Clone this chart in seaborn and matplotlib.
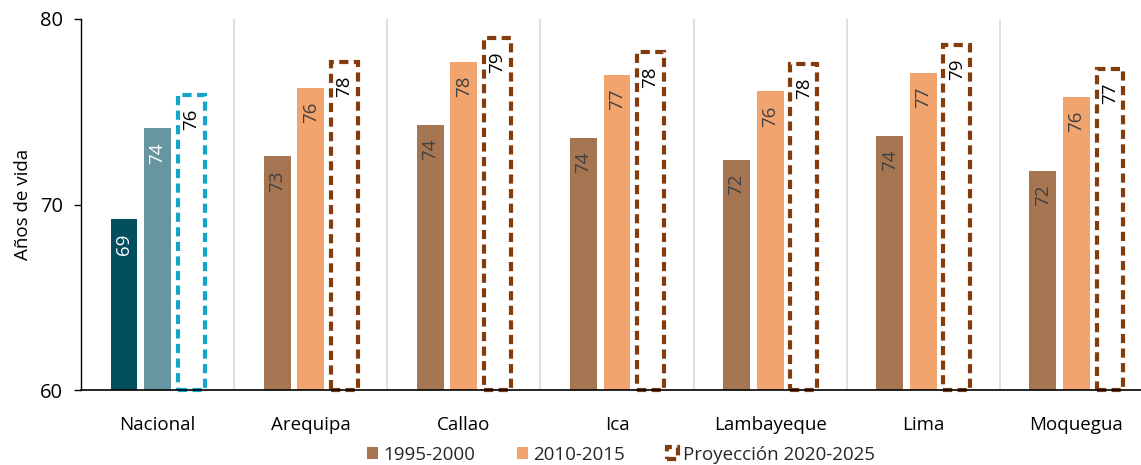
import numpy as np
import pandas as pd
import seaborn as sns
import matplotlib
matplotlib.use("Agg")
import matplotlib.pyplot as plt
from matplotlib.patches import Patch

# Esperanza de vida al nacer por ámbito (años)
regiones = ["Nacional", "Arequipa", "Callao", "Ica", "Lambayeque", "Lima", "Moquegua"]
periodos = ["1995-2000", "2010-2015", "Proyección 2020-2025"]
v_1995_2000 = [69.2, 72.6, 74.3, 73.6, 72.4, 73.7, 71.8]
v_2010_2015 = [74.1, 76.3, 77.7, 77.0, 76.1, 77.1, 75.8]
v_2020_2025 = [75.9, 77.7, 79.0, 78.2, 77.6, 78.6, 77.3]
etiquetas_y = [60, 70, 80]

df = pd.DataFrame({
    "region": regiones * 3,
    "periodo": np.repeat(periodos, len(regiones)),
    "valor": v_1995_2000 + v_2010_2015 + v_2020_2025,
})

sns.set_theme(style="white")
plt.rcParams["font.family"] = ["Open Sans", "DejaVu Sans"]

C_MARRON = "#A67653"
C_NARANJA = "#F2A46E"
C_PROY = "#843C0C"
C_NAC = ["#034E5F", "#6795A0", "#12A6C8"]
FS = 13.5

fig = plt.figure(figsize=(11.41, 4.65), dpi=100)
ax = fig.add_axes([81 / 1141, 75 / 465, (1153 - 81) / 1141, 371 / 465])

sns.barplot(data=df, x="region", y="valor", hue="periodo", order=regiones,
            hue_order=periodos, palette=[C_MARRON, C_NARANJA, "white"],
            width=0.657, gap=0.2, saturation=1, legend=False, ax=ax, zorder=3)

ymin = etiquetas_y[0]
for k, cont in enumerate(ax.containers):
    for i, bar in enumerate(cont):
        val = bar.get_height()
        bar.set_y(ymin)
        bar.set_height(val - ymin)
        nacional = regiones[i] == "Nacional"
        if k < 2:
            bar.set_edgecolor("none")
            if nacional:
                bar.set_facecolor(C_NAC[k])
            tcolor = "white" if nacional else "#404040"
        else:
            bar.set_facecolor("white")
            bar.set_edgecolor(C_NAC[2] if nacional else C_PROY)
            bar.set_linewidth(3.0)
            bar.set_linestyle((0, (2.2, 1.3)))
            bar.set_clip_on(False)
            tcolor = "black"
        ax.annotate(f"{round(val)}", xy=(bar.get_x() + bar.get_width() / 2, val),
                    xytext=(0, -10), textcoords="offset points",
                    rotation=90, ha="center", va="top", fontsize=FS,
                    color=tcolor, zorder=5)

# Separadores verticales entre ámbitos
for x in np.arange(0.5, len(regiones) - 0.5, 1):
    ax.axvline(x, color="#D9D9D9", lw=1.2, zorder=1)

ax.set_xlim(-0.5, len(regiones) - 0.5)
ax.set_ylim(ymin, etiquetas_y[-1])
ax.set_yticks(etiquetas_y)
ax.set_xlabel("")
ax.set_ylabel("Años de vida", fontsize=FS, color="black", labelpad=6)

for s in ["top", "right"]:
    ax.spines[s].set_visible(False)
ax.spines["left"].set_color("black")
ax.spines["bottom"].set_color("black")
ax.spines["left"].set_linewidth(1.0)
ax.spines["bottom"].set_linewidth(1.2)
ax.spines["bottom"].set_zorder(4)

ax.tick_params(axis="y", left=True, length=5, width=1, color="black",
               labelsize=14.5, labelcolor="black", pad=8)
ax.tick_params(axis="x", bottom=False, labelsize=FS, labelcolor="black", pad=13)

handles = [
    Patch(facecolor=C_MARRON, edgecolor="none", label=periodos[0]),
    Patch(facecolor=C_NARANJA, edgecolor="none", label=periodos[1]),
    Patch(facecolor="white", edgecolor=C_PROY, linewidth=3, linestyle=(0, (2.2, 1.3)),
          label=periodos[2]),
]
fig.legend(handles=handles, loc="center", bbox_to_anchor=(621 / 1141, 1 - 455 / 465),
           ncol=3, frameon=False, fontsize=FS, handlelength=0.6, handleheight=0.6,
           handletextpad=0.3, columnspacing=2.2)

fig.savefig("out.png", dpi=100)
